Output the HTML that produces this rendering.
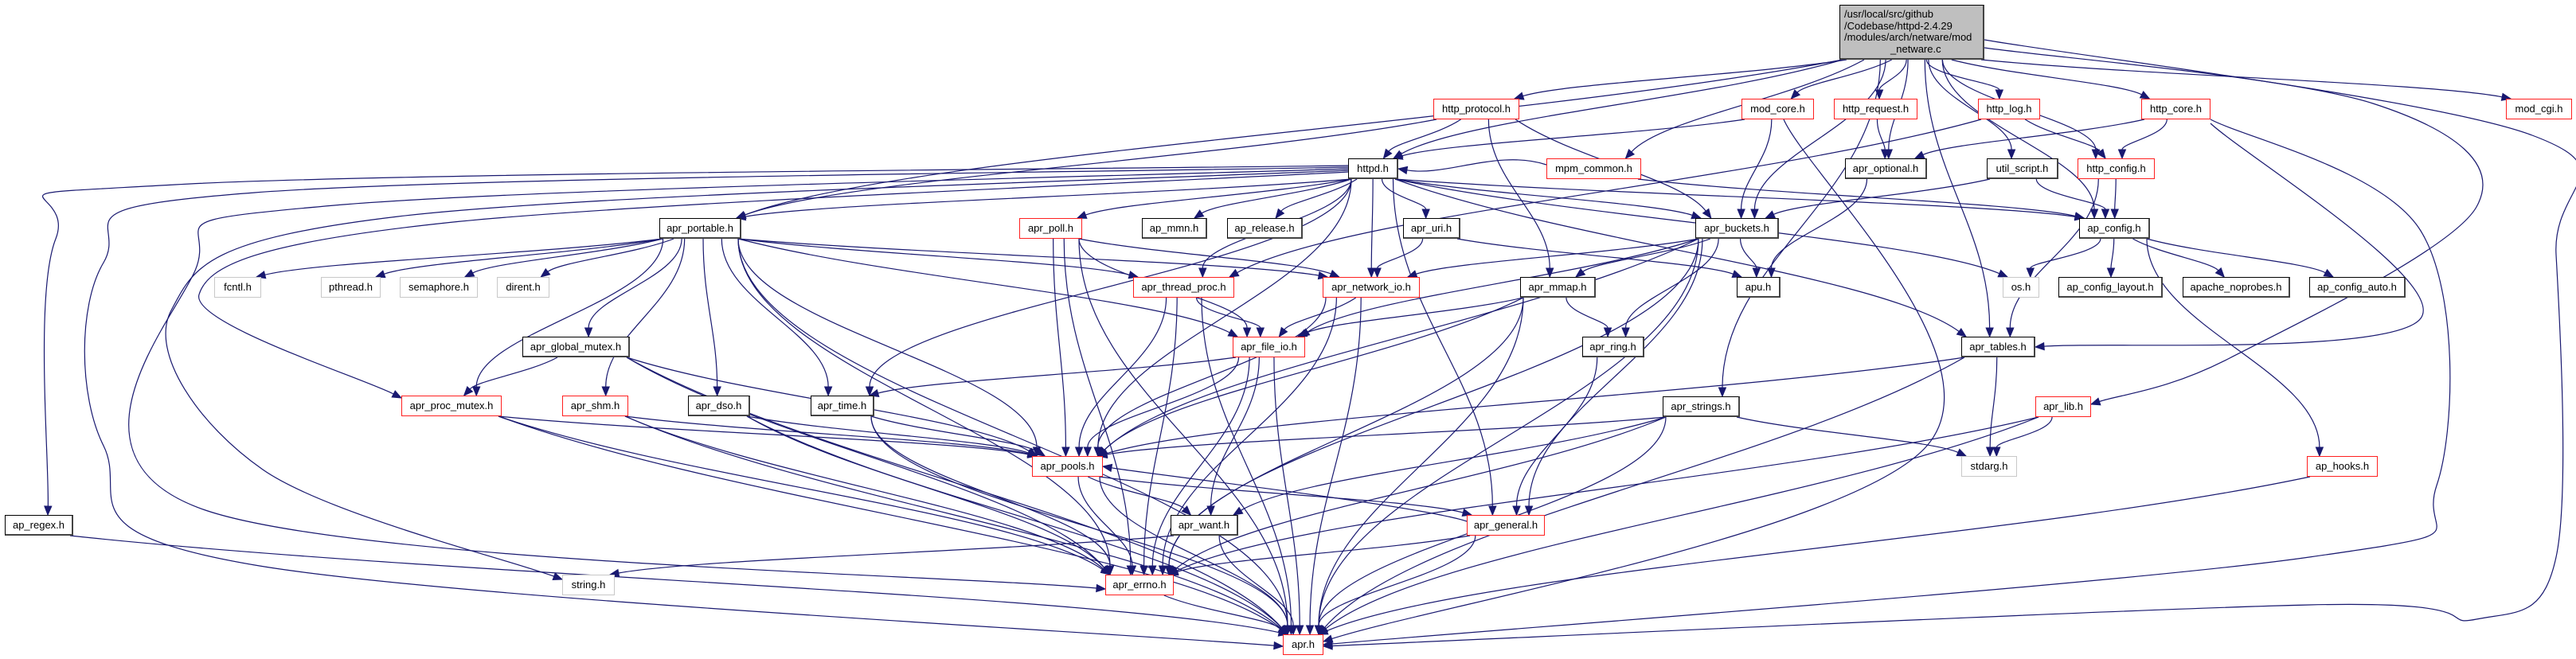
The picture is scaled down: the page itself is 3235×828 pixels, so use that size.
<!DOCTYPE html>
<html><head><meta charset="utf-8">
<style>
html,body{margin:0;padding:0;background:#fff;}
#c{position:relative;width:3235px;height:828px;overflow:hidden;font-family:"Liberation Sans",sans-serif;}
.n{position:absolute;box-sizing:border-box;height:26px;background:#fff;border:1px solid #000;font-size:13px;line-height:24px;text-align:center;white-space:nowrap;color:#000;}
.r{border:1.5px solid #ff2020;}
.k{border:1px solid #000;border-right:2px solid #444;border-bottom:2px solid #444;}
.g{border:1.5px solid #c8c8c8;}
svg{position:absolute;left:0;top:0;}
</style></head><body>
<div id="c">
<svg id="s" width="3235" height="828"></svg>
<div class="n" style="left:2310px;top:6px;width:182px;height:69px;background:#bfbfbf;border:1px solid #000;border-right:2px solid #444;border-bottom:2px solid #444;line-height:14.5px;text-align:left;padding:4px 0 0 5px;font-size:13px;">/usr/local/src/github<br>/Codebase/httpd-2.4.29<br>/modules/arch/netware/mod<br><span style="padding-left:58px">_netware.c</span></div>
<div class="n r" style="left:1800px;top:124px;width:108px">http_protocol.h</div>
<div class="n r" style="left:2187px;top:124px;width:91px">mod_core.h</div>
<div class="n r" style="left:2303px;top:124px;width:105px">http_request.h</div>
<div class="n r" style="left:2484px;top:124px;width:78px">http_log.h</div>
<div class="n r" style="left:2689px;top:124px;width:87px">http_core.h</div>
<div class="n r" style="left:3147px;top:124px;width:83px">mod_cgi.h</div>
<div class="n k" style="left:1693px;top:199px;width:63px">httpd.h</div>
<div class="n r" style="left:1942px;top:199px;width:119px">mpm_common.h</div>
<div class="n k" style="left:2317px;top:199px;width:103px">apr_optional.h</div>
<div class="n k" style="left:2495px;top:199px;width:90px">util_script.h</div>
<div class="n r" style="left:2609px;top:199px;width:97px">http_config.h</div>
<div class="n k" style="left:828px;top:274px;width:103px">apr_portable.h</div>
<div class="n r" style="left:1280px;top:274px;width:79px">apr_poll.h</div>
<div class="n k" style="left:1434px;top:274px;width:82px">ap_mmn.h</div>
<div class="n k" style="left:1541px;top:274px;width:95px">ap_release.h</div>
<div class="n k" style="left:1762px;top:274px;width:72px">apr_uri.h</div>
<div class="n k" style="left:2129px;top:274px;width:105px">apr_buckets.h</div>
<div class="n k" style="left:2611px;top:274px;width:89px">ap_config.h</div>
<div class="n g" style="left:269px;top:348px;width:59px">fcntl.h</div>
<div class="n g" style="left:403px;top:348px;width:75px">pthread.h</div>
<div class="n g" style="left:502px;top:348px;width:98px">semaphore.h</div>
<div class="n g" style="left:624px;top:348px;width:66px">dirent.h</div>
<div class="n r" style="left:1423px;top:348px;width:127px">apr_thread_proc.h</div>
<div class="n r" style="left:1661px;top:348px;width:122px">apr_network_io.h</div>
<div class="n k" style="left:1909px;top:348px;width:95px">apr_mmap.h</div>
<div class="n k" style="left:2181px;top:348px;width:55px">apu.h</div>
<div class="n g" style="left:2515px;top:348px;width:46px">os.h</div>
<div class="n k" style="left:2585px;top:348px;width:131px">ap_config_layout.h</div>
<div class="n k" style="left:2741px;top:348px;width:135px">apache_noprobes.h</div>
<div class="n k" style="left:2900px;top:348px;width:121px">ap_config_auto.h</div>
<div class="n k" style="left:656px;top:423px;width:135px">apr_global_mutex.h</div>
<div class="n r" style="left:1548px;top:423px;width:91px">apr_file_io.h</div>
<div class="n k" style="left:1987px;top:423px;width:78px">apr_ring.h</div>
<div class="n k" style="left:2463px;top:423px;width:93px">apr_tables.h</div>
<div class="n r" style="left:504px;top:497px;width:126px">apr_proc_mutex.h</div>
<div class="n r" style="left:706px;top:497px;width:83px">apr_shm.h</div>
<div class="n k" style="left:864px;top:497px;width:78px">apr_dso.h</div>
<div class="n k" style="left:1018px;top:497px;width:80px">apr_time.h</div>
<div class="n k" style="left:2088px;top:498px;width:97px">apr_strings.h</div>
<div class="n r" style="left:2556px;top:498px;width:70px">apr_lib.h</div>
<div class="n r" style="left:1296px;top:573px;width:89px">apr_pools.h</div>
<div class="n g" style="left:2463px;top:573px;width:70px">stdarg.h</div>
<div class="n r" style="left:2897px;top:573px;width:89px">ap_hooks.h</div>
<div class="n k" style="left:6px;top:647px;width:86px">ap_regex.h</div>
<div class="n k" style="left:1470px;top:647px;width:85px">apr_want.h</div>
<div class="n r" style="left:1842px;top:647px;width:98px">apr_general.h</div>
<div class="n g" style="left:706px;top:722px;width:66px">string.h</div>
<div class="n r" style="left:1388px;top:722px;width:86px">apr_errno.h</div>
<div class="n r" style="left:1611px;top:797px;width:51px">apr.h</div>
</div>
<script>
var N={
main:[2310,6,182,69],hp:[1800,124,108],mc:[2187,124,91],hr:[2303,124,105],hl:[2484,124,78],hc:[2689,124,87],cgi:[3147,124,83],
httpd:[1693,199,63],mpm:[1942,199,119],opt:[2317,199,103],us:[2495,199,90],hcf:[2609,199,97],
port:[828,274,103],poll:[1280,274,79],mmn:[1434,274,82],rel:[1541,274,95],uri:[1762,274,72],bk:[2129,274,105],cfg:[2611,274,89],
fcntl:[269,348,59],pth:[403,348,75],sem:[502,348,98],dir:[624,348,66],tp:[1423,348,127],net:[1661,348,122],mmap:[1909,348,95],apu:[2181,348,55],os:[2515,348,46],lay:[2585,348,131],nop:[2741,348,135],auto:[2900,348,121],
gm:[656,423,135],fio:[1548,423,91],ring:[1987,423,78],tab:[2463,423,93],
pm:[504,497,126],shm:[706,497,83],dso:[864,497,78],time:[1018,497,80],str:[2088,498,97],lib:[2556,498,70],
pools:[1296,573,89],std:[2463,573,70],hooks:[2897,573,89],
regex:[6,647,86],want:[1470,647,85],gen:[1842,647,98],
string:[706,722,66],errno:[1388,722,86],apr:[1611,797,51]};
var OV={
"httpd>regex":[[1693,208],[220,232],[70,300],[60,647]],
"httpd>apr":[[1693,210],[320,242],[130,330],[130,560],[320,710],[1611,812]],
"httpd>errno":[[1693,212],[420,258],[245,340],[255,640],[1388,740]],
"httpd>string":[[1693,214],[500,272],[215,390],[330,590],[706,728]],
"httpd>pm":[[1693,216],[560,280],[250,370],[504,500]],
"main>apr":[[2492,50],[3180,170],[3210,320],[3210,700],[3110,778],[2900,760],[1662,812]],
"main>lib":[[2492,60],[2980,130],[3110,260],[2800,450],[2626,508]],
"hc>apr":[[2776,150],[3040,290],[3060,610],[2900,700],[1662,810]],
"mc>apr":[[2240,150],[2420,560],[1662,806]],
"hc>tab":[[2776,155],[3040,400],[2556,436]]
};
var E="main>httpd main>hp main>mpm main>mc main>hr main>hl main>hc main>cgi main>opt main>us main>hcf main>cfg main>port main>bk main>str main>lib main>apr main>tab "+
"hp>httpd hp>port hp>bk hp>mmap mc>httpd mc>bk mc>apr hr>opt hl>hcf hl>tp hc>opt hc>hcf hc>tab hc>apr mpm>cfg mpm>httpd "+
"httpd>cfg httpd>port httpd>poll httpd>mmn httpd>rel httpd>uri httpd>net httpd>bk httpd>tab httpd>time httpd>tp httpd>pools httpd>gen httpd>apr httpd>regex httpd>string httpd>os httpd>pm httpd>errno "+
"port>fcntl port>pth port>sem port>dir port>gm port>pm port>shm port>dso port>time port>tp port>net port>fio port>pools port>errno port>apr "+
"poll>net poll>fio poll>pools poll>errno poll>apr uri>net uri>apu "+
"bk>net bk>mmap bk>fio bk>ring bk>apu bk>gen bk>errno bk>apr bk>pools "+
"tp>fio tp>pools tp>errno tp>apr net>fio net>pools net>errno net>apr mmap>fio mmap>ring mmap>pools mmap>errno mmap>apr "+
"fio>time fio>pools fio>want fio>errno fio>apr gm>pm gm>pools gm>errno gm>apr pm>pools pm>errno pm>apr shm>pools shm>errno shm>apr "+
"dso>pools dso>errno dso>apr time>pools time>errno time>apr ring>gen str>pools str>want str>std str>errno str>apr "+
"pools>want pools>gen pools>errno pools>apr gen>pools gen>errno gen>apr want>string want>apr errno>apr tab>pools tab>std tab>apr "+
"lib>std lib>errno lib>apr hooks>apr cfg>os cfg>lay cfg>nop cfg>auto cfg>hooks us>cfg us>bk hcf>cfg hcf>tab opt>apu regex>apr";
function H(k){return N[k][3]||26;}
var s='';
function clamp(v,a,b){return Math.max(a,Math.min(b,v));}
function arrow(x2,y2,cx,cy){
 var ang=Math.atan2(y2-cy,x2-cx),L=11,W=4.5;
 var bx=x2-L*Math.cos(ang),by=y2-L*Math.sin(ang);
 var px=-Math.sin(ang)*W,py=Math.cos(ang)*W;
 s+='<polygon points="'+x2+','+y2+' '+(bx+px)+','+(by+py)+' '+(bx-px)+','+(by-py)+'" fill="#191970" stroke="#191970"/>';
 return [bx,by];
}
E.split(' ').forEach(function(e){
 var p=e.split('>'),a=N[p[0]],b=N[p[1]];if(!a||!b)return;
 if(OV[e]){
  var P=OV[e],n=P.length,d='M'+P[0][0]+','+P[0][1];
  var last=P[n-1],prev=P[n-2];
  var bb=arrow(last[0],last[1],prev[0]+(last[0]-prev[0])*0.6,prev[1]+(last[1]-prev[1])*0.6+(n>2?0:0));
  var Q=P.slice();Q[n-1]=bb;
  for(var i=0;i<n-1;i++){
   var p0=Q[Math.max(0,i-1)],p1=Q[i],p2=Q[i+1],p3=Q[Math.min(n-1,i+2)];
   var c1=[p1[0]+(p2[0]-p0[0])/6,p1[1]+(p2[1]-p0[1])/6],c2=[p2[0]-(p3[0]-p1[0])/6,p2[1]-(p3[1]-p1[1])/6];
   d+=' C'+c1[0]+','+c1[1]+' '+c2[0]+','+c2[1]+' '+p2[0]+','+p2[1];
  }
  s+='<path d="'+d+'" fill="none" stroke="#191970" stroke-width="1.2"/>';
  return;
 }
 var ac=a[0]+a[2]/2,bc=b[0]+b[2]/2,x1,y1,x2,y2,c1x,c1y,c2x,c2y;
 if(b[1]>a[1]+5){
  x1=clamp(ac+(bc-ac)*0.15,a[0]+4,a[0]+a[2]-4);y1=a[1]+H(p[0]);
  x2=clamp(bc+(ac-bc)*0.1,b[0]+6,b[0]+b[2]-6);y2=b[1];
  var dy=y2-y1;c1x=x1;c1y=y1+dy*0.4;c2x=x2;c2y=y2-dy*0.4;
  if(Math.abs(bc-ac)>dy*2.5){c1x=x1+(x2-x1)*0.3;c2x=x2-(x2-x1)*0.15;}
 }else{
  x1=a[0];y1=a[1]+8;x2=b[0]+b[2];y2=b[1]+13;
  c1x=x1-60;c1y=y1-20;c2x=x2+60;c2y=y2+10;
 }
 var bxy=arrow(x2,y2,c2x,c2y);
 s+='<path d="M'+x1+','+y1+' C'+c1x+','+c1y+' '+c2x+','+c2y+' '+bxy[0]+','+bxy[1]+'" fill="none" stroke="#191970" stroke-width="1.2"/>';
});
document.getElementById('s').innerHTML=s;
</script>
</body></html>
